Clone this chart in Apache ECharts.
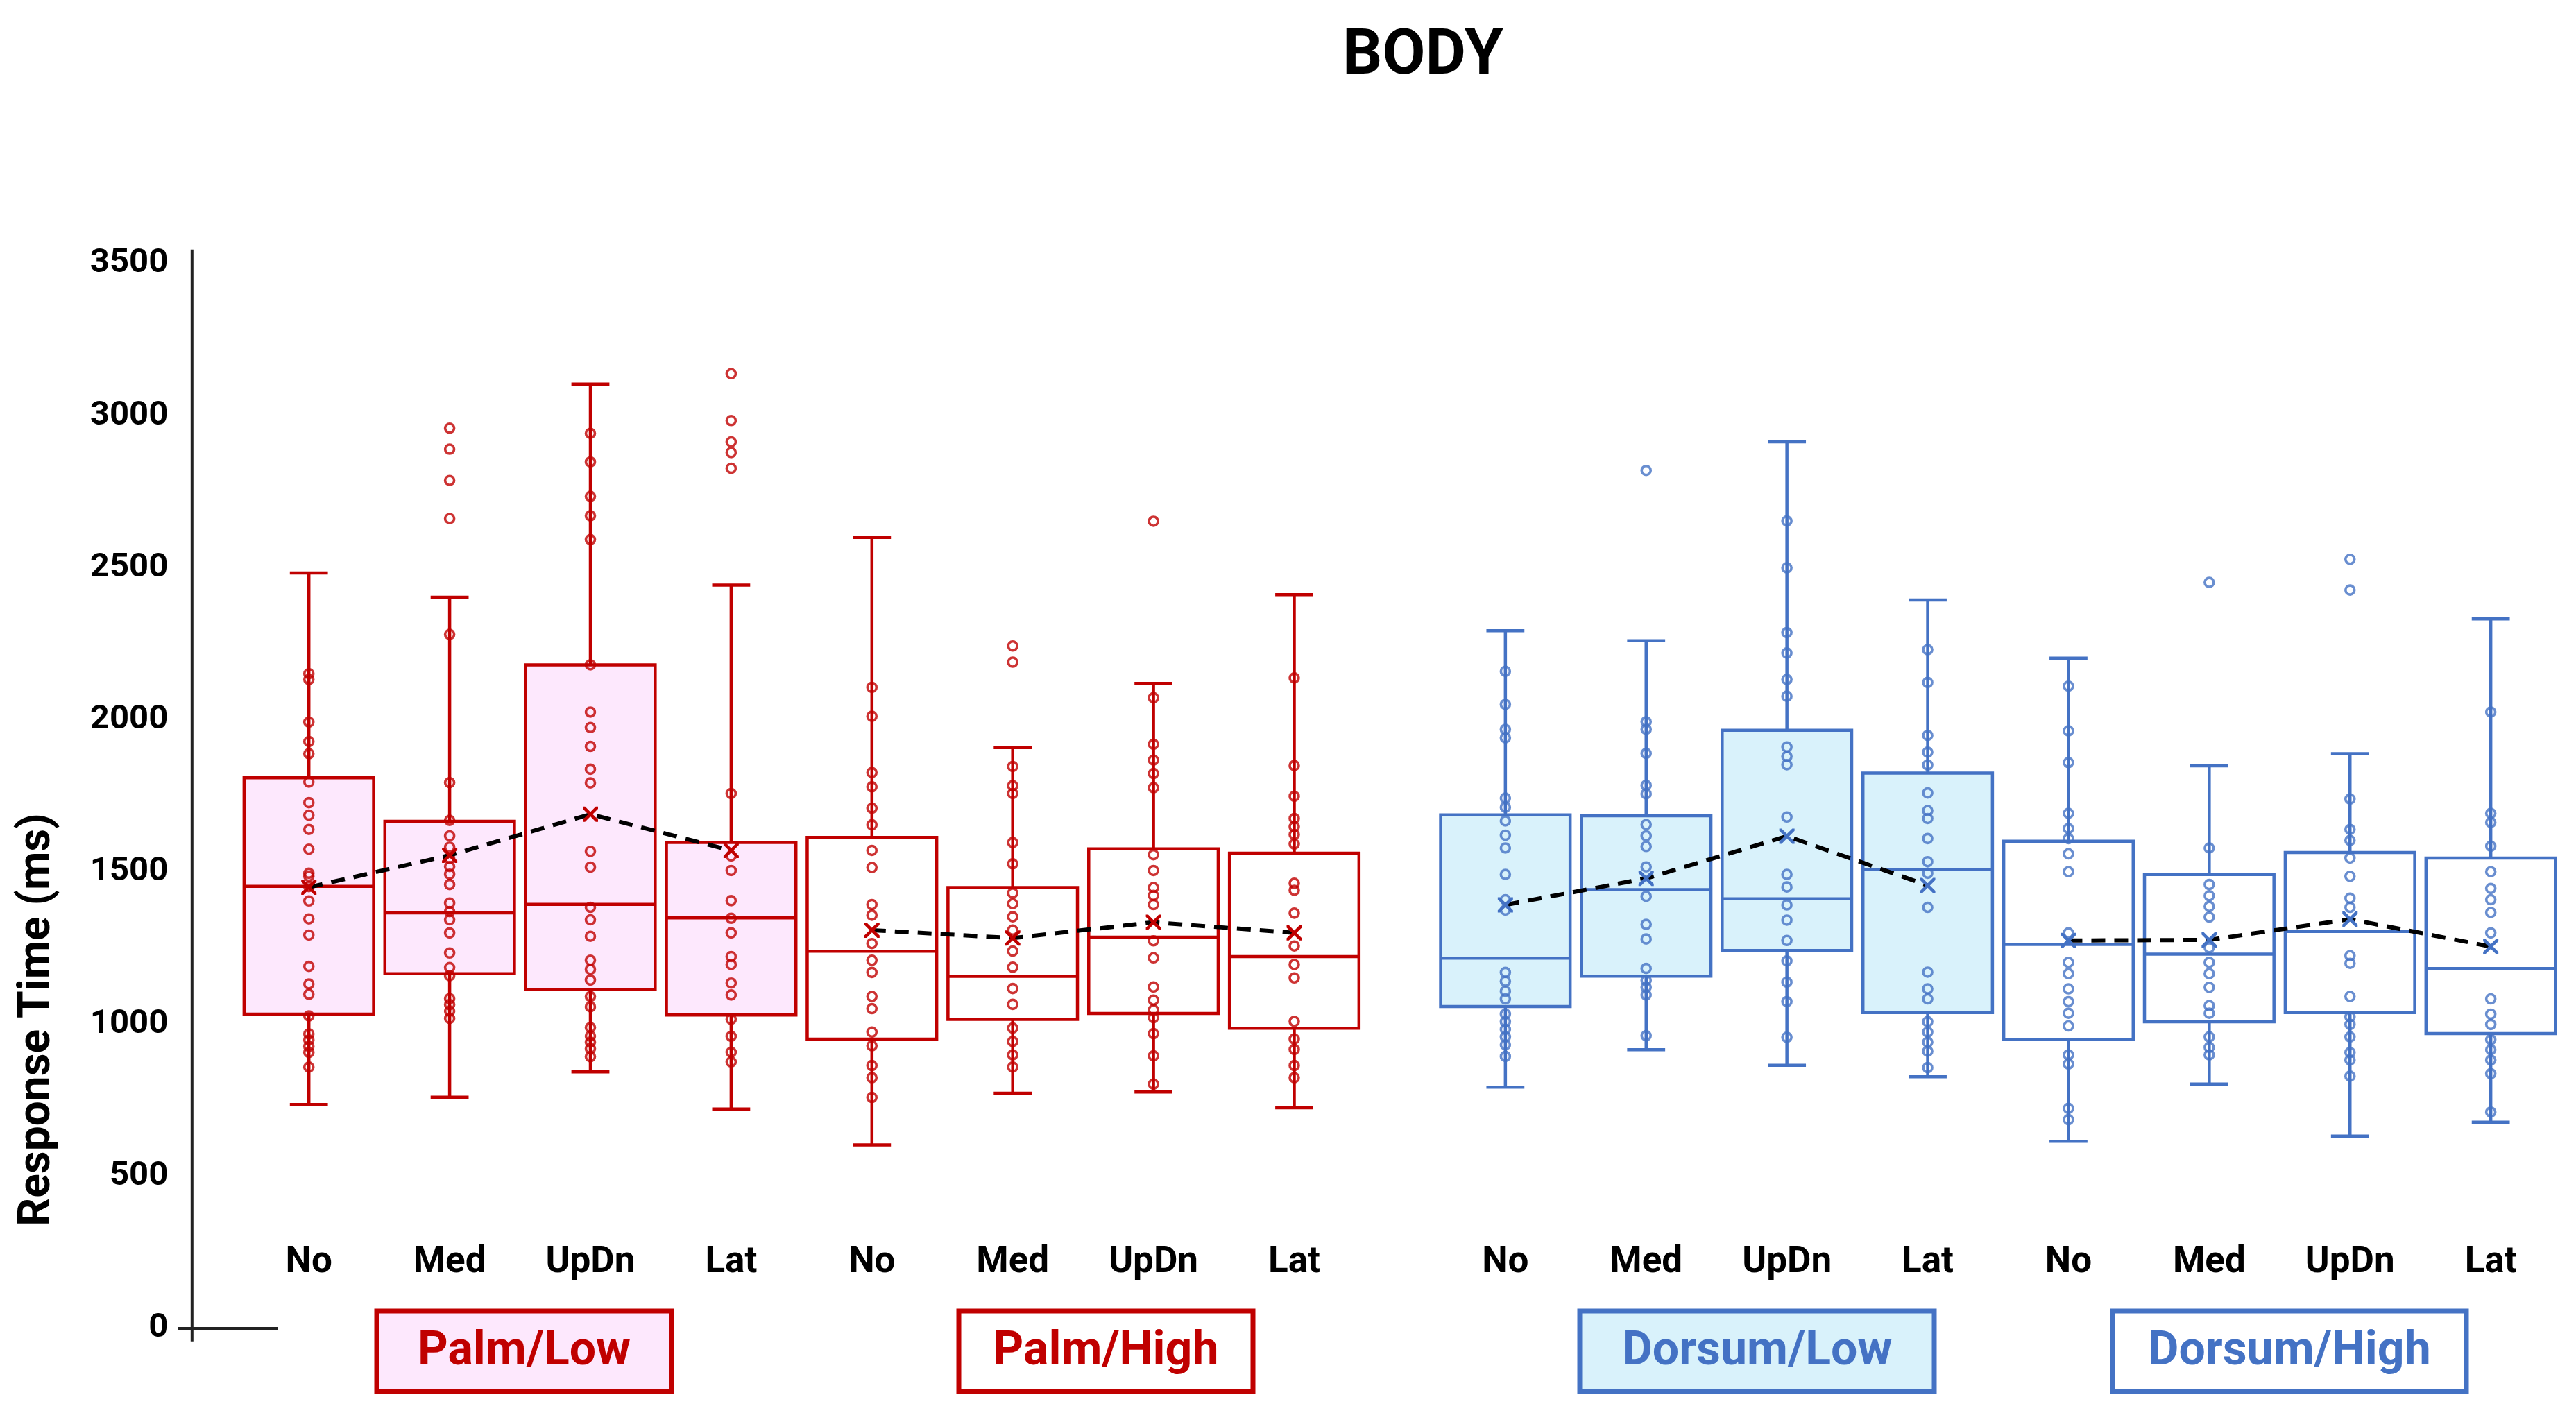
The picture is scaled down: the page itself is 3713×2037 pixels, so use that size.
<!DOCTYPE html>
<html>
<head>
<meta charset="utf-8">
<script src="https://cdn.jsdelivr.net/npm/echarts@6/dist/echarts.min.js"></script>
<style>
html,body{margin:0;padding:0;background:#fff;}
#chart{width:3713px;height:2037px;}
</style>
</head>
<body>
<div id="chart"></div>
<script>
// ---------------- DATA ----------------
const chartTitle = 'BODY';
const yAxisTitle = 'Response Time (ms)';
const conditions = ['No', 'Med', 'UpDn', 'Lat'];
const groups = ['Palm/Low', 'Palm/High', 'Dorsum/Low', 'Dorsum/High'];
const yTicks = [0, 500, 1000, 1500, 2000, 2500, 3000, 3500];

// box stats per condition: [lower whisker, Q1, median, Q3, upper whisker]
const palmLowBox = [[736, 1033, 1453, 1810, 2483], [760, 1166, 1366, 1667, 2403], [843, 1113, 1394, 2181, 3104], [721, 1030, 1349, 1597, 2443]];
const palmHighBox = [[603, 951, 1240, 1614, 2600], [773, 1016, 1157, 1449, 1909], [777, 1035, 1286, 1576, 2120], [725, 987, 1222, 1562, 2412]];
const dorsumLowBox = [[793, 1058, 1217, 1688, 2293], [916, 1158, 1442, 1685, 2260], [865, 1242, 1412, 1966, 2914], [827, 1038, 1509, 1825, 2394]];
const dorsumHighBox = [[615, 949, 1262, 1601, 2203], [803, 1008, 1230, 1492, 1849], [632, 1038, 1305, 1564, 1889], [678, 969, 1183, 1546, 2332]];

// means (x markers joined by dashed line)
const palmLowMean = [1450, 1555, 1690, 1571];
const palmHighMean = [1309, 1283, 1335, 1300];
const dorsumLowMean = [1392, 1479, 1618, 1456];
const dorsumHighMean = [1275, 1277, 1345, 1255];

// individual participant points (incl. outliers)
const palmLowPoints = [
  [2152, 2133, 1993, 1929, 1889, 1796, 1728, 1687, 1640, 1575, 1496, 1486, 1452, 1405, 1346, 1293, 1190, 1132, 1098, 1027, 968, 948, 927, 907, 859],
  [2959, 2890, 2787, 2662, 2281, 1794, 1670, 1619, 1582, 1545, 1518, 1493, 1459, 1398, 1370, 1343, 1300, 1234, 1186, 1159, 1084, 1064, 1043, 1019],
  [2942, 2848, 2735, 2671, 2593, 2181, 2026, 1975, 1913, 1838, 1793, 1568, 1516, 1384, 1343, 1289, 1210, 1180, 1145, 1091, 1057, 989, 961, 941, 920, 893],
  [3138, 2984, 2914, 2879, 2827, 1758, 1553, 1505, 1406, 1348, 1300, 1222, 1196, 1135, 1096, 1016, 960, 908, 876]
];
const palmHighPoints = [
  [2107, 2012, 1827, 1780, 1710, 1655, 1571, 1515, 1393, 1358, 1265, 1210, 1170, 1091, 1051, 974, 929, 864, 824, 759],
  [2243, 2190, 1847, 1784, 1758, 1597, 1527, 1431, 1396, 1353, 1309, 1240, 1187, 1117, 1065, 987, 943, 899, 859],
  [2653, 2073, 1920, 1868, 1824, 1777, 1557, 1505, 1449, 1423, 1393, 1274, 1218, 1122, 1079, 1047, 1021, 969, 896, 803],
  [2138, 1850, 1749, 1676, 1649, 1623, 1592, 1463, 1440, 1365, 1257, 1196, 1152, 1009, 951, 917, 864, 824]
];
const dorsumLowPoints = [
  [2160, 2051, 1969, 1941, 1743, 1713, 1668, 1621, 1579, 1492, 1409, 1375, 1170, 1141, 1108, 1083, 1033, 1008, 983, 958, 932, 894],
  [2820, 1994, 1969, 1890, 1785, 1757, 1656, 1619, 1584, 1517, 1420, 1328, 1280, 1183, 1144, 1121, 1096, 962],
  [2654, 2500, 2287, 2220, 2133, 2078, 1911, 1880, 1853, 1681, 1492, 1451, 1392, 1342, 1275, 1208, 1138, 1074, 957],
  [2231, 2123, 1949, 1894, 1852, 1760, 1702, 1676, 1610, 1534, 1496, 1384, 1171, 1116, 1083, 1008, 974, 941, 911, 857]
];
const dorsumHighPoints = [
  [2111, 1964, 1860, 1693, 1643, 1610, 1560, 1501, 1300, 1203, 1166, 1116, 1074, 1036, 994, 899, 869, 723, 686],
  [2452, 1579, 1459, 1422, 1387, 1352, 1251, 1203, 1166, 1121, 1061, 1036, 958, 924, 899],
  [2528, 2427, 1740, 1640, 1604, 1546, 1486, 1414, 1384, 1225, 1200, 1091, 1024, 999, 958, 907, 882, 829],
  [2026, 1693, 1663, 1585, 1501, 1446, 1409, 1367, 1300, 1083, 1033, 999, 949, 916, 882, 837, 711]
];

// ---------------- STYLE / LAYOUT ----------------
const RED = '#C00000';
const BLUE = '#4472C4';
const PINK = '#FDE8FD';
const LIGHTBLUE = '#D9F2FB';
const groupStyle = [
  { stroke: RED, fill: PINK },
  { stroke: RED, fill: '#FFFFFF' },
  { stroke: BLUE, fill: LIGHTBLUE },
  { stroke: BLUE, fill: '#FFFFFF' }
];
const allBox = [palmLowBox, palmHighBox, dorsumLowBox, dorsumHighBox];
const allMean = [palmLowMean, palmHighMean, dorsumLowMean, dorsumHighMean];
const allPoints = [palmLowPoints, palmHighPoints, dorsumLowPoints, dorsumHighPoints];

const BOX_W = 0.92;  // in x-units
const CAP_W = 0.27;
const FONT = 'Roboto, "Noto Sans", sans-serif';

function xPos(g, c) { return g * 4 + c + (g >= 2 ? 0.5 : 0); }

const labelAt = {};
groups.forEach((g, gi) => conditions.forEach((c, ci) => { labelAt[xPos(gi, ci).toFixed(2)] = c; }));

function makeRender(style) {
  return function (params, api) {
    const x = api.value(0);
    const lo = api.coord([x, api.value(1)]);
    const q1 = api.coord([x, api.value(2)]);
    const md = api.coord([x, api.value(3)]);
    const q3 = api.coord([x, api.value(4)]);
    const hi = api.coord([x, api.value(5)]);
    const hw = api.size([BOX_W, 0])[0] / 2;
    const cw = api.size([CAP_W, 0])[0] / 2;
    const ls = { stroke: style.stroke, lineWidth: 4.5, fill: null };
    return {
      type: 'group',
      children: [
        { type: 'line', shape: { x1: lo[0], y1: lo[1], x2: lo[0], y2: q1[1] }, style: ls },
        { type: 'line', shape: { x1: hi[0], y1: hi[1], x2: hi[0], y2: q3[1] }, style: ls },
        { type: 'line', shape: { x1: lo[0] - cw, y1: lo[1], x2: lo[0] + cw, y2: lo[1] }, style: ls },
        { type: 'line', shape: { x1: hi[0] - cw, y1: hi[1], x2: hi[0] + cw, y2: hi[1] }, style: ls },
        { type: 'rect', shape: { x: q3[0] - hw, y: q3[1], width: 2 * hw, height: q1[1] - q3[1] },
          style: { fill: style.fill, stroke: style.stroke, lineWidth: 4.5 } },
        { type: 'line', shape: { x1: md[0] - hw, y1: md[1], x2: md[0] + hw, y2: md[1] }, style: ls }
      ]
    };
  };
}

const X_SYMBOL = 'path://M0,0 L3,0 L10,7 L17,0 L20,0 L20,3 L13,10 L20,17 L20,20 L17,20 L10,13 L3,20 L0,20 L0,17 L7,10 L0,3 Z';

const series = [];
groups.forEach((g, gi) => {
  const st = groupStyle[gi];
  series.push({
    name: g + ' box',
    type: 'custom',
    renderItem: makeRender(st),
    encode: { x: 0, y: [1, 2, 3, 4, 5] },
    z: 2,
    data: allBox[gi].map((b, ci) => [xPos(gi, ci)].concat(b))
  });
  const pts = [];
  allPoints[gi].forEach((arr, ci) => arr.forEach(v => pts.push([xPos(gi, ci), v])));
  series.push({
    name: g + ' points',
    type: 'scatter',
    symbol: 'circle',
    symbolSize: 13,
    z: 3,
    itemStyle: { color: 'rgba(255,255,255,0)', borderColor: st.stroke, borderWidth: 3.6 },
    data: pts
  });
  series.push({
    name: g + ' mean',
    type: 'line',
    z: 4,
    symbol: X_SYMBOL,
    symbolSize: 22,
    showSymbol: true,
    itemStyle: { color: st.stroke },
    lineStyle: { color: '#000', width: 6, type: [20, 13] },
    data: allMean[gi].map((m, ci) => [xPos(gi, ci), m])
  });
});

const chart = echarts.init(document.getElementById('chart'), null, { renderer: 'canvas' });
chart.setOption({
  backgroundColor: '#fff',
  animation: false,
  title: {
    text: chartTitle,
    left: 1930,
    top: 33,
    textStyle: { fontFamily: FONT, fontWeight: 'bold', fontSize: 90, color: '#000' }
  },
  grid: { left: 242.3, right: 21.4, top: 380, bottom: 122, containLabel: false },
  xAxis: {
    type: 'value',
    min: -1, max: 16, interval: 0.5,
    offset: -94,
    axisLine: { show: false }, axisTick: { show: false }, splitLine: { show: false },
    axisLabel: {
      margin: 0,
      verticalAlign: 'middle',
      fontFamily: FONT, fontWeight: 'bold', fontSize: 53, color: '#000',
      formatter: function (v) { const k = Number(v).toFixed(2); return labelAt[k] || ''; }
    }
  },
  yAxis: {
    type: 'value',
    min: yTicks[0], max: yTicks[yTicks.length - 1], interval: 500,
    axisLine: { show: false }, axisTick: { show: false }, splitLine: { show: false },
    axisLabel: {
      margin: 0, fontFamily: FONT, fontWeight: 'bold', fontSize: 49, color: '#000',
      formatter: function (v) { return String(v); }
    }
  },
  series: series
});

// axis decorations, axis title and group labels
const p0 = chart.convertToPixel({ gridIndex: 0 }, [-0.83, -43]);
const pTop = chart.convertToPixel({ gridIndex: 0 }, [-0.83, 3546]);
const h0 = chart.convertToPixel({ gridIndex: 0 }, [-0.93, 0]);
const h1 = chart.convertToPixel({ gridIndex: 0 }, [-0.22, 0]);

const groupBoxes = [
  [543, 1890, 425, 116],
  [1382, 1890, 424, 116],
  [2277, 1890, 511, 116],
  [3045, 1890, 510, 116]
];
const graphics = [
  { type: 'line', shape: { x1: p0[0], y1: p0[1], x2: pTop[0], y2: pTop[1] }, style: { stroke: '#222', lineWidth: 4 } },
  { type: 'line', shape: { x1: h0[0], y1: h0[1], x2: h1[0], y2: h1[1] }, style: { stroke: '#222', lineWidth: 4 } },
  { type: 'text', x: 55, y: 1470, rotation: Math.PI / 2,
    style: { text: yAxisTitle, fill: '#000', font: 'bold 64px ' + FONT, align: 'center', verticalAlign: 'middle' } }
];
groups.forEach((g, gi) => {
  const b = groupBoxes[gi];
  const st = groupStyle[gi];
  graphics.push({ type: 'rect', shape: { x: b[0], y: b[1], width: b[2], height: b[3] },
    style: { fill: st.fill, stroke: st.stroke, lineWidth: 7 } });
  graphics.push({ type: 'text', x: b[0] + b[2] / 2, y: b[1] + b[3] / 2 + 2,
    style: { text: g, fill: st.stroke, font: 'bold 68px ' + FONT, align: 'center', verticalAlign: 'middle' } });
});
chart.setOption({ graphic: graphics });
</script>
</body>
</html>
